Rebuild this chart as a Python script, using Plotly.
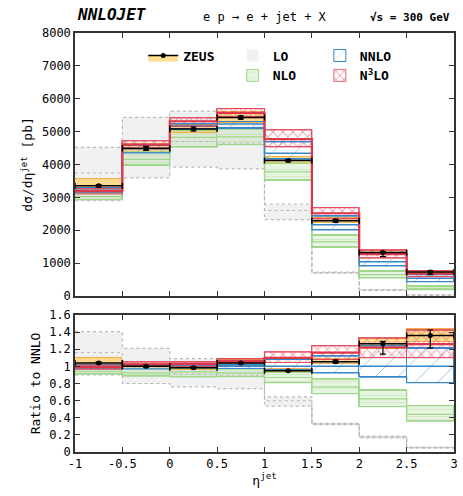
import plotly.graph_objects as go
from plotly.subplots import make_subplots
import numpy as np

# ---------------- data ----------------
edges = [-1.0, -0.5, 0.0, 0.5, 1.0, 1.5, 2.0, 2.5, 3.0]

zeus = [3350, 4490, 5080, 5430, 4120, 2290, 1320, 730]
zeus_err_up = [40, 60, 60, 50, 30, 40, 31, 35]
zeus_err_dn = [40, 60, 60, 50, 30, 40, 125, 78]
zeus_sys = [200, 135, 125, 160, 100, 70, 63, 40]

lo_c = [3740, 4400, 4700, 4650, 2600, 710, 183, 27]
lo_hi = [4524, 5433, 5624, 5544, 2799, 727, 193, 30]
lo_lo = [2898, 3592, 3922, 3870, 2322, 694, 172, 24]

nlo_c = [3027, 4153, 4825, 4838, 3776, 1649, 648, 236]
nlo_hi = [3123, 4378, 5031, 5073, 4036, 1845, 752, 290]
nlo_lo = [2930, 3974, 4525, 4602, 3515, 1476, 554, 193]

nnlo_c = [3220, 4490, 5160, 5230, 4340, 2170, 1045, 537]
nnlo_hi = [3285, 4580, 5237, 5308, 4687, 2430, 1296, 650]
nnlo_lo = [3156, 4355, 5083, 5099, 4166, 2007, 914, 435]

n3lo_c = [3188, 4602, 5315, 5570, 4774, 2517, 1275, 677]
n3lo_hi = [3268, 4715, 5418, 5701, 5056, 2691, 1390, 763]
n3lo_lo = [3107, 4490, 5160, 5439, 4535, 2344, 1150, 591]

x_tickvals = [-1, -0.5, 0, 0.5, 1, 1.5, 2, 2.5, 3]
x_ticktext = ["-1", "-0.5", "0", "0.5", "1", "1.5", "2", "2.5", "3"]
y1_tickvals = [0, 1000, 2000, 3000, 4000, 5000, 6000, 7000, 8000]
y2_tickvals = [0, 0.2, 0.4, 0.6, 0.8, 1.0, 1.2, 1.4, 1.6]
y2_ticktext = ["0", "0.2", "0.4", "0.6", "0.8", "1", "1.2", "1.4", "1.6"]

# ---------------- helpers ----------------
E = np.array(edges)
centers = (E[:-1] + E[1:]) / 2
widths = E[1:] - E[:-1]
NN = np.array(nnlo_c, float)

FONT = "DejaVu Sans Mono"

fig = make_subplots(rows=2, cols=1, shared_xaxes=False, vertical_spacing=0.0)


def step_xy(vals):
    v = list(vals)
    return list(E), v + [v[-1]]


def add_band(row, lo, hi, color, pattern, name, legend, showlegend, line=None):
    lo = np.asarray(lo, float)
    hi = np.asarray(hi, float)
    fig.add_trace(go.Bar(
        x=centers, y=hi - lo, base=lo, width=widths,
        marker=dict(color=color, line=line or dict(width=0), pattern=pattern),
        name=name, legend=legend, showlegend=showlegend, hoverinfo="skip"),
        row=row, col=1)


def add_step(row, vals, color, width, dash="solid"):
    xs, ys = step_xy(vals)
    fig.add_trace(go.Scatter(
        x=xs, y=ys, mode="lines", line=dict(color=color, width=width, dash=dash, shape="hv"),
        showlegend=False, hoverinfo="skip"), row=row, col=1)


LO_FILL = "rgba(190,190,190,0.22)"
LO_LINE = "rgb(185,185,185)"
NLO_FILL = "rgba(140,205,120,0.22)"
NLO_LINE = "rgb(160,215,140)"
NNLO_LINE = "rgb(55,135,200)"
N3LO_LINE = "rgb(220,55,75)"
N3LO_LIGHT = "rgba(225,70,90,0.8)"
ZEUS_FILL = "rgba(255,205,90,0.65)"
ZEUS_EDGE = "rgba(240,170,60,0.9)"

for row in (1, 2):
    scale = np.ones(8) if row == 1 else NN
    sl = row == 1
    # LO
    add_band(row, np.array(lo_lo) / scale, np.array(lo_hi) / scale, LO_FILL, None, "LO", "legend2", sl)
    # NLO
    add_band(row, np.array(nlo_lo) / scale, np.array(nlo_hi) / scale, "rgba(0,0,0,0)",
             dict(shape="-", fgcolor="rgba(150,210,130,0.6)", bgcolor=NLO_FILL, size=7, solidity=0.15),
             "NLO", "legend2", sl, line=dict(width=1, color=NLO_LINE))
    # ZEUS systematic band
    zs = np.array(zeus_sys, float)
    add_band(row, (np.array(zeus) - zs) / scale, (np.array(zeus) + zs) / scale, ZEUS_FILL, None,
             "ZEUS band", "legend", False, line=dict(width=1, color=ZEUS_EDGE))
    # NNLO
    add_band(row, np.array(nnlo_lo) / scale, np.array(nnlo_hi) / scale, "rgba(0,0,0,0)",
             dict(shape="/", fgcolor=NNLO_LINE, bgcolor="rgba(255,255,255,0)", size=16, solidity=0.06),
             "NNLO", "legend3", sl, line=dict(width=1, color=NNLO_LINE))
    # N3LO
    add_band(row, np.array(n3lo_lo) / scale, np.array(n3lo_hi) / scale, "rgba(0,0,0,0)",
             dict(shape="x", fgcolor="rgba(225,60,80,0.95)", bgcolor="rgba(255,255,255,0)", size=7, solidity=0.3),
             "N<sup>3</sup>LO", "legend3", sl, line=dict(width=1, color=N3LO_LIGHT))

    # outlines
    add_step(row, np.array(lo_hi) / scale, LO_LINE, 1.2, "dot")
    add_step(row, np.array(lo_lo) / scale, LO_LINE, 1.2, "dot")
    add_step(row, np.array(lo_c) / scale, LO_LINE, 1.0, "dot")
    add_step(row, np.array(nlo_hi) / scale, NLO_LINE, 1.2)
    add_step(row, np.array(nlo_lo) / scale, NLO_LINE, 1.2)
    add_step(row, np.array(nlo_c) / scale, NLO_LINE, 1.2)
    add_step(row, np.array(nnlo_hi) / scale, NNLO_LINE, 1.2)
    add_step(row, np.array(nnlo_lo) / scale, NNLO_LINE, 1.2)
    add_step(row, np.array(nnlo_c) / scale, NNLO_LINE, 1.5)
    add_step(row, np.array(n3lo_hi) / scale, N3LO_LIGHT, 1.2)
    add_step(row, np.array(n3lo_lo) / scale, N3LO_LIGHT, 1.2)
    add_step(row, np.array(n3lo_c) / scale, N3LO_LINE, 2.2)

    # ZEUS data points
    fig.add_trace(go.Scatter(
        x=centers, y=np.array(zeus) / scale, mode="markers",
        marker=dict(color="black", size=5),
        error_x=dict(type="data", array=widths / 2, color="black", thickness=1.5, width=3),
        error_y=dict(type="data", symmetric=False, array=np.array(zeus_err_up) / scale,
                     arrayminus=np.array(zeus_err_dn) / scale, color="black", thickness=1.2, width=3),
        showlegend=False, hoverinfo="skip"), row=row, col=1)

# legend-only ZEUS entry
fig.add_trace(go.Scatter(
    x=[None], y=[None], mode="lines+markers", fill="toself", fillcolor=ZEUS_FILL,
    line=dict(color="black", width=1.5), marker=dict(color="black", size=5),
    name="ZEUS", legend="legend", showlegend=True), row=1, col=1)

axis_common = dict(showline=True, linecolor="#333", linewidth=1.5, mirror="allticks",
                   ticks="inside", ticklen=5, tickcolor="#333", showgrid=False, zeroline=False,
                   tickfont=dict(family=FONT, size=12, color="black"))

fig.update_xaxes(range=[-1, 3], tickvals=x_tickvals, ticktext=x_ticktext, **axis_common)
fig.update_xaxes(showticklabels=False, row=1, col=1)
fig.update_xaxes(title=dict(text="η<sup>jet</sup>", font=dict(family=FONT, size=13), standoff=4), row=2, col=1)
fig.update_yaxes(**axis_common)
fig.update_yaxes(range=[0, 8000], tickvals=y1_tickvals,
                 title=dict(text="dσ/dη<sup>jet</sup> [pb]", font=dict(family=FONT, size=13), standoff=6),
                 row=1, col=1)
fig.update_yaxes(range=[0, 1.6], tickvals=y2_tickvals, ticktext=y2_ticktext,
                 title=dict(text="Ratio to NNLO", font=dict(family=FONT, size=13), standoff=6),
                 row=2, col=1)

LEG_FONT = dict(family=FONT, size=13, weight="bold")
fig.update_layout(
    width=463, height=496,
    margin=dict(l=75, r=5, t=33, b=44),
    plot_bgcolor="white", paper_bgcolor="white",
    barmode="overlay", bargap=0,
    font=dict(family=FONT, size=12, color="black"),
    xaxis=dict(domain=[0, 1]), xaxis2=dict(domain=[0, 1]),
    yaxis=dict(domain=[0.3723, 1.0]), yaxis2=dict(domain=[0.0, 0.327]),
    legend=dict(x=0.18, y=0.982, xanchor="left", yanchor="top", bgcolor="rgba(0,0,0,0)",
                font=LEG_FONT, itemwidth=30),
    legend2=dict(x=0.416, y=0.982, xanchor="left", yanchor="top", bgcolor="rgba(0,0,0,0)",
                 font=LEG_FONT, itemwidth=30),
    legend3=dict(x=0.646, y=0.982, xanchor="left", yanchor="top", bgcolor="rgba(0,0,0,0)",
                 font=LEG_FONT, itemwidth=30),
    annotations=[
        dict(text="<b><i>NNLOJET</i></b>", x=0.0, y=1.045, xref="paper", yref="paper",
             xanchor="left", yanchor="middle", showarrow=False, font=dict(family=FONT, size=16)),
        dict(text="e p → e + jet + X", x=0.5, y=1.037, xref="paper", yref="paper",
             xanchor="center", yanchor="middle", showarrow=False, font=dict(family=FONT, size=12)),
        dict(text="<b>√s = 300 GeV</b>", x=0.995, y=1.037, xref="paper", yref="paper",
             xanchor="right", yanchor="middle", showarrow=False, font=dict(family=FONT, size=11)),
    ],
)

fig.write_html("out.html")
